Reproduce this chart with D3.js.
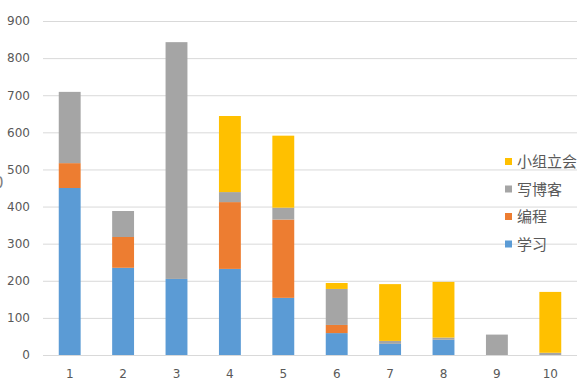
<!DOCTYPE html>
<html>
<head>
<meta charset="utf-8">
<script src="https://cdn.jsdelivr.net/npm/d3@7"></script>
<style>
  body { margin: 0; background: #fff; }
  text { font-family: "DejaVu Sans", sans-serif; fill: #595959; }
  .legend text { font-family: "Noto Sans CJK SC", sans-serif; }
</style>
</head>
<body>
<div id="chart"></div>
<script>
// data
var days = ["1", "2", "3", "4", "5", "6", "7", "8", "9", "10"];
var study = [450, 235, 205, 232, 154, 59, 30, 41, 0, 0];   // 学习
var coding = [67, 83, 0, 180, 211, 22, 0, 0, 0, 0];        // 编程
var blog = [192, 70, 638, 27, 32, 97, 8, 6, 55, 6];        // 写博客
var standup = [0, 0, 0, 205, 194, 16, 153, 150, 0, 164];   // 小组立会
var seriesNames = ["学习", "编程", "写博客", "小组立会"];
var yTicks = [0, 100, 200, 300, 400, 500, 600, 700, 800, 900];

var colors = ["#5b9bd5", "#ed7d31", "#a5a5a5", "#ffc000"];

var width = 588, height = 386;
var margin = { top: 21, right: 11, bottom: 31, left: 43 };
var innerWidth = width - margin.left - margin.right;
var innerHeight = height - margin.top - margin.bottom;

var svg = d3.select("#chart")
  .append("svg")
  .attr("width", width)
  .attr("height", height);

var g = svg.append("g")
  .attr("transform", "translate(" + margin.left + "," + margin.top + ")");

// build rows for stacking
var keys = ["study", "coding", "blog", "standup"];
var table = days.map(function(d, i) {
  return { day: d, study: study[i], coding: coding[i], blog: blog[i], standup: standup[i] };
});
var stacked = d3.stack().keys(keys)(table);

var xScale = d3.scaleBand().domain(days).range([0, innerWidth]).paddingInner(0.59).paddingOuter(0.295);
var yScale = d3.scaleLinear().domain([0, 900]).range([innerHeight, 0]);

// gridlines
g.selectAll(".grid")
  .data(yTicks)
  .enter()
  .append("line")
  .attr("x1", 0)
  .attr("x2", innerWidth)
  .attr("y1", function(d) { return yScale(d) + 0.5; })
  .attr("y2", function(d) { return yScale(d) + 0.5; })
  .style("stroke", "#d9d9d9")
  .style("stroke-width", 1);

// y axis labels
var yAxis = d3.axisLeft(yScale).tickValues(yTicks).tickSize(0).tickPadding(13);
g.append("g").call(yAxis)
  .call(function(s) { s.select(".domain").remove(); })
  .selectAll("text")
  .style("font-size", "12px")
  .style("fill", "#595959")
  .style("font-family", "DejaVu Sans, sans-serif");

// bars
g.selectAll(".layer")
  .data(stacked)
  .enter()
  .append("g")
  .attr("fill", function(d, i) { return colors[i]; })
  .selectAll("rect")
  .data(function(d) { return d; })
  .enter()
  .append("rect")
  .attr("x", function(d) { return xScale(d.data.day); })
  .attr("width", xScale.bandwidth())
  .attr("y", function(d) { return yScale(d[1]); })
  .attr("height", function(d) { return yScale(d[0]) - yScale(d[1]); });

// x axis labels
var xAxis = d3.axisBottom(xScale).tickSize(0).tickPadding(14);
g.append("g")
  .attr("transform", "translate(0," + innerHeight + ")")
  .call(xAxis)
  .call(function(s) { s.select(".domain").remove(); })
  .selectAll("text")
  .style("font-size", "12px")
  .style("fill", "#595959")
  .style("font-family", "DejaVu Sans, sans-serif");

// stray glyph cut at the left edge
svg.append("text")
  .attr("x", -6)
  .attr("y", 188)
  .style("font-size", "15px")
  .style("fill", "#7f7f7f")
  .text("0");

// legend (reverse order, top to bottom)
var legendOrder = [3, 2, 1, 0];
var legend = svg.append("g").attr("class", "legend");
var items = legend.selectAll(".item")
  .data(legendOrder)
  .enter()
  .append("g")
  .attr("transform", function(d, i) { return "translate(505," + (161.5 + i * 27.5) + ")"; });

items.append("rect")
  .attr("x", 0)
  .attr("y", -3.5)
  .attr("width", 7)
  .attr("height", 7)
  .attr("fill", function(d) { return colors[d]; });

items.append("text")
  .attr("x", 12)
  .attr("y", 5.5)
  .style("font-size", "15px")
  .style("fill", "#595959")
  .text(function(d) { return seriesNames[d]; });
</script>
</body>
</html>
